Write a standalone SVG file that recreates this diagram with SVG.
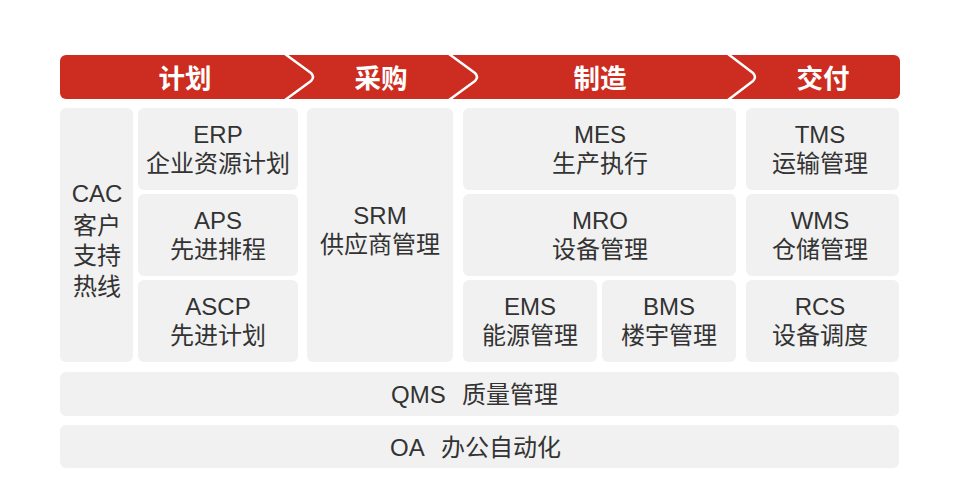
<svg xmlns="http://www.w3.org/2000/svg" width="960" height="502" viewBox="0 0 960 502">
<style>
.box{fill:#f1f1f1}
.t{font-family:"Liberation Sans","Noto Sans CJK SC",sans-serif;font-size:24px;fill:#333;text-anchor:middle}
.s{font-family:"Liberation Sans","Noto Sans CJK SC",sans-serif;font-size:24px;fill:#333}
.h{font-family:"Liberation Sans","Noto Sans CJK SC",sans-serif;font-size:26.5px;font-weight:bold;fill:#fff;text-anchor:middle}
.chev{fill:none;stroke:#fff;stroke-width:2.5;stroke-linejoin:round}
</style>
<rect width="960" height="502" fill="#fff"/>
<g id="banner">
<rect x="60" y="55" width="840" height="44" rx="6" fill="#cc2d20"/>
<path class="chev" d="M285 54 L311 73 Q315 77 311 81 L285 100"/>
<path class="chev" d="M449 54 L475 73 Q479 77 475 81 L449 100"/>
<path class="chev" d="M728 54 L753 73 Q757 77 753 81 L728 100"/>
<text class="h" x="185" y="88">计划</text>
<text class="h" x="381" y="88">采购</text>
<text class="h" x="600" y="88">制造</text>
<text class="h" x="823" y="88">交付</text>
</g>
<g id="cac"><rect class="box" x="60" y="108" width="73" height="254" rx="6"/>
<text class="t" x="97" y="202">CAC</text><text class="t" x="97" y="234">客户</text><text class="t" x="97" y="264">支持</text><text class="t" x="97" y="295">热线</text></g>
<g id="erp"><rect class="box" x="138" y="108" width="160" height="82" rx="6"/>
<text class="t" x="218" y="143">ERP</text><text class="t" x="218" y="172">企业资源计划</text></g>
<g id="aps"><rect class="box" x="138" y="194" width="160" height="82" rx="6"/>
<text class="t" x="218" y="229">APS</text><text class="t" x="218" y="258">先进排程</text></g>
<g id="ascp"><rect class="box" x="138" y="280" width="160" height="82" rx="6"/>
<text class="t" x="218" y="315">ASCP</text><text class="t" x="218" y="344">先进计划</text></g>
<g id="srm"><rect class="box" x="307" y="108" width="146" height="254" rx="6"/>
<text class="t" x="380" y="224">SRM</text><text class="t" x="380" y="253">供应商管理</text></g>
<g id="mes"><rect class="box" x="463" y="108" width="273" height="82" rx="6"/>
<text class="t" x="600" y="143">MES</text><text class="t" x="600" y="172">生产执行</text></g>
<g id="mro"><rect class="box" x="463" y="194" width="273" height="82" rx="6"/>
<text class="t" x="600" y="229">MRO</text><text class="t" x="600" y="258">设备管理</text></g>
<g id="ems"><rect class="box" x="463" y="280" width="134" height="82" rx="6"/>
<text class="t" x="530" y="315">EMS</text><text class="t" x="530" y="344">能源管理</text></g>
<g id="bms"><rect class="box" x="602" y="280" width="134" height="82" rx="6"/>
<text class="t" x="669" y="315">BMS</text><text class="t" x="669" y="344">楼宇管理</text></g>
<g id="tms"><rect class="box" x="746" y="108" width="153" height="82" rx="6"/>
<text class="t" x="820" y="143">TMS</text><text class="t" x="820" y="172">运输管理</text></g>
<g id="wms"><rect class="box" x="746" y="194" width="153" height="82" rx="6"/>
<text class="t" x="820" y="229">WMS</text><text class="t" x="820" y="258">仓储管理</text></g>
<g id="rcs"><rect class="box" x="746" y="280" width="153" height="82" rx="6"/>
<text class="t" x="820" y="315">RCS</text><text class="t" x="820" y="344">设备调度</text></g>
<g id="qms"><rect class="box" x="60" y="372" width="839" height="44" rx="6"/>
<text class="s" x="391" y="403">QMS<tspan x="462">质量管理</tspan></text></g>
<g id="oa"><rect class="box" x="60" y="425" width="839" height="43" rx="6"/>
<text class="s" x="390" y="456">OA<tspan x="441">办公自动化</tspan></text></g>
<g id="connectors"/>
</svg>
